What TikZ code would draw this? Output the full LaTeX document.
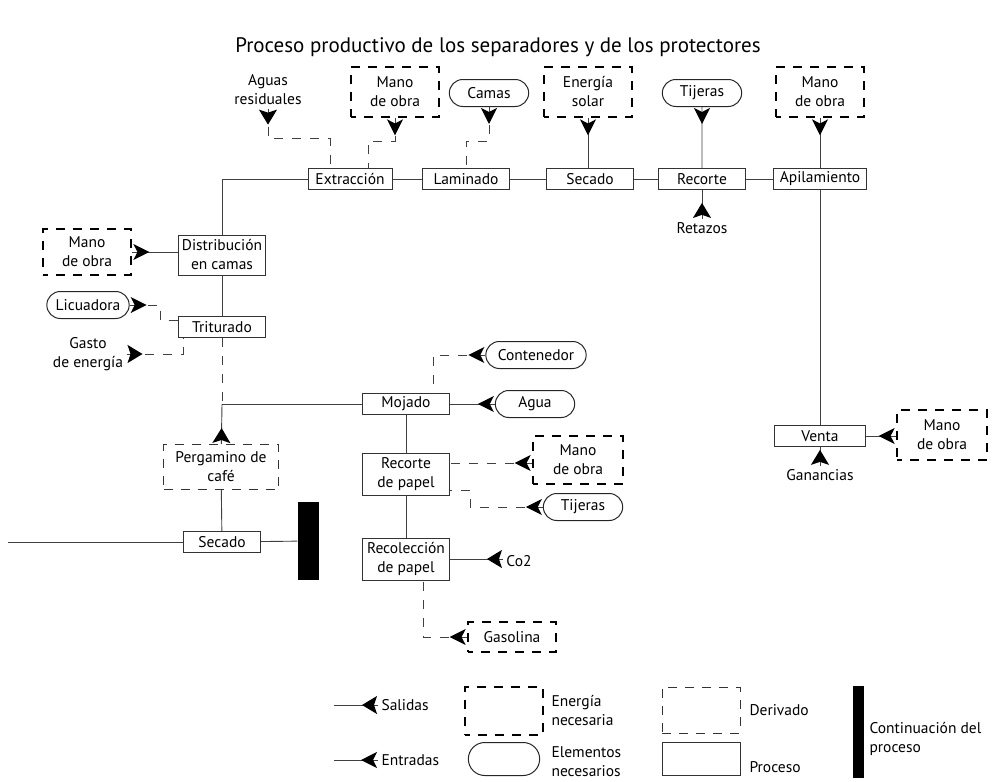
\documentclass[tikz,border=0pt]{standalone}
\usepackage{fontspec}
\setmainfont{PT Sans}
\usetikzlibrary{arrows.meta, positioning, shapes.misc, decorations.markings}

\begin{document}
\begin{tikzpicture}[x=1pt,y=-1pt,
    font=\fontsize{15.5}{19}\selectfont,
    proceso/.style={draw=black!80, line width=1pt, inner sep=2pt, minimum width=87pt, minimum height=21pt, align=center},
    energia/.style={draw=black, line width=2.8pt, dash pattern=on 9pt off 8pt, dash phase=4pt, minimum width=88pt, minimum height=50pt, align=center},
    elemento/.style={draw=black!85, line width=1pt, rounded rectangle, minimum width=86pt, minimum height=27pt},
    derivado/.style={draw=black!80, line width=1pt, dash pattern=on 9pt off 8pt, align=center},
    flujo/.style={draw=black!75, line width=0.9pt},
    aux/.style={flujo, dash pattern=on 9pt off 9pt},
    entrada/.style={postaction={decorate, decoration={markings,
        mark=at position 17pt with {\arrow[solid, black, line width=1.2pt]{Stealth[length=16pt,width=16pt,inset=4pt]}}}}},
    salida/.style={postaction={decorate, decoration={markings,
        mark=at position 16pt with {\arrow[solid, black, line width=1.2pt]{Stealth[length=15pt,width=18pt,inset=3pt]}}}}},
    barra/.style={fill=black, draw=none}]

  \useasboundingbox (0,0) rectangle (999,782);

  \node (titulo) at (498,47) {\fontsize{21}{23}\selectfont Proceso productivo de los separadores y de los protectores};

  % procesos
  \node[proceso, minimum width=84pt] (extr) at (350,179) {Extracción};
  \node[proceso] (lamin) at (466,179) {Laminado};
  \node[proceso] (secA)  at (590,179) {Secado};
  \node[proceso] (recor) at (702,179) {Recorte};
  \node[proceso, minimum width=93pt] (apil) at (820,179) {Apilamiento};
  \node[proceso, minimum height=40pt] (distr) at (222,255) {Distribución\\en camas};
  \node[proceso] (trit)  at (222,327) {Triturado};
  \node[proceso] (moj)   at (406,404) {Mojado};
  \node[proceso, minimum height=42pt] (rpap) at (406,474) {Recorte\\de papel};
  \node[proceso, minimum height=42pt] (rcol) at (406,559) {Recolección\\de papel};
  \node[proceso, minimum width=77pt] (secB) at (222,542) {Secado};
  \node[proceso, minimum width=91pt] (venta) at (820,436) {Venta};
  \node[barra, minimum width=21pt, minimum height=78pt] (fin) at (308,541) {};

  % elementos y salidas
  \node[align=center] (aguas) at (268,90) {Aguas\\residuales};
  \node[energia] (mo1) at (395,92) {Mano\\de obra};
  \node[elemento] (camas) at (489,93) {Camas};
  \node[energia] (esol) at (588,92) {Energía\\solar};
  \node[elemento] (tij1) at (702,93) {Tijeras};
  \node[energia] (mo2) at (820,92) {Mano\\de obra};
  \node (retaz) at (702,228) {Retazos};
  \node (ganan) at (820,475) {Ganancias};
  \node[energia, minimum width=90pt] (mo5) at (942,435) {Mano\\de obra};
  \node[energia, minimum height=46pt] (mo3) at (87,252) {Mano\\de obra};
  \node[elemento, minimum width=89pt] (licu) at (88,305) {Licuadora};
  \node[align=center] (gasto) at (88,354) {Gasto\\de energía};
  \node[derivado, minimum width=115pt, minimum height=45pt] (perg) at (221,467) {Pergamino de\\café};
  \node[elemento, minimum width=107pt] (cont) at (536,355) {Contenedor};
  \node[elemento] (agua) at (535,404) {Agua};
  \node[energia, minimum width=90pt, minimum height=48pt] (mo4) at (578,460) {Mano\\de obra};
  \node[elemento] (tij2) at (583,507) {Tijeras};
  \node (co2) at (519,561) {Co2};
  \node[energia, minimum height=30pt] (gasol) at (512,637) {Gasolina};
  \coordinate (cruce) at (222,404);
  \coordinate (izq) at (8,542);

  % flujo principal
  \draw[flujo] (extr) -- (lamin) (lamin) -- (secA) (secA) -- (recor) (recor) -- (apil);
  \draw[flujo] (extr.west) -| (distr.north);
  \draw[flujo] (distr) -- (trit);
  \draw[flujo] (apil) -- (venta);
  \draw[aux] (trit) -- (cruce);
  \draw[flujo] (moj) -- (cruce);
  \draw[flujo, salida] (perg) -- (cruce);
  \draw[flujo] (perg) -- (secB);
  \draw[flujo] (secB) -- (izq);
  \draw[flujo] (secB) -- (fin);
  \draw[flujo] (moj) -- (rpap);
  \draw[flujo] (rpap) -- (rcol);

  % entradas y salidas
  \draw[aux, salida] (aguas.south) -- ++(0,30) -| ([xshift=-20pt]extr.north);
  \draw[aux, entrada] (mo1.south) -- ++(0,23) -| ([xshift=18pt]extr.north);
  \draw[aux, entrada] (camas.south) -- ++(0,34) -| (lamin.north);
  \draw[flujo, entrada] (esol.south) -- (esol.south |- secA.north);
  \draw[flujo, entrada] (tij1) -- (recor);
  \draw[flujo, entrada] (mo2) -- (apil);
  \draw[flujo, salida] (retaz) -- (recor);
  \draw[flujo, salida] (ganan) -- (venta);
  \draw[flujo, entrada] (mo5.west |- venta.east) -- (venta.east);
  \draw[flujo, entrada] (mo3.east) -- (distr.west |- mo3);
  \draw[aux, entrada] (licu.east) -| ([xshift=-18pt,yshift=7pt]trit.west) -- ([yshift=7pt]trit.west);
  \draw[aux, salida] (gasto.east) -| ([xshift=-39pt]trit.south);
  \draw[aux, entrada] (cont.west) -| ([xshift=27pt]moj.north);
  \draw[flujo, entrada] (agua) -- (moj);
  \draw[aux, entrada] ([yshift=-3pt]mo4.west) -- ([yshift=11pt]rpap.east);
  \draw[aux, entrada] (tij2.west) -| ([xshift=20pt,yshift=-16pt]rpap.east) -- ([yshift=-16pt]rpap.east);
  \draw[flujo, salida] (co2.west |- rcol.east) -- (rcol.east);
  \draw[aux, entrada] (gasol.west) -| ([xshift=17pt]rcol.south);

  % leyenda
  \node[anchor=west] (lsal) at (378,705) {Salidas};
  \node[anchor=west] (lent) at (378,760) {Entradas};
  \coordinate (ls0) at (334,705);
  \coordinate (le0) at (334,760);
  \draw[flujo, salida] (lsal.west) -- (ls0);
  \draw[flujo, entrada] (lent.west) -- (le0);
  \node[energia, minimum width=78pt, minimum height=48pt] (lene) at (504,711) {};
  \node[anchor=west, align=left] at (548,711) {Energía\\necesaria};
  \node[elemento, minimum width=78pt, minimum height=33pt] (lele) at (504,759) {};
  \node[anchor=west, align=left] at (548,762) {Elementos\\necesarios};
  \node[derivado, minimum width=78pt, minimum height=46pt] (lder) at (701,710) {};
  \node[anchor=west] at (746,710) {Derivado};
  \node[proceso, minimum width=78pt, minimum height=33pt] (lpro) at (701,759) {};
  \node[anchor=west] at (746,767) {Proceso};
  \node[barra, minimum width=11pt, minimum height=92pt] (lbar) at (858,732) {};
  \node[anchor=west, align=left] at (866,739) {Continuación del\\proceso};
\end{tikzpicture}
\end{document}
